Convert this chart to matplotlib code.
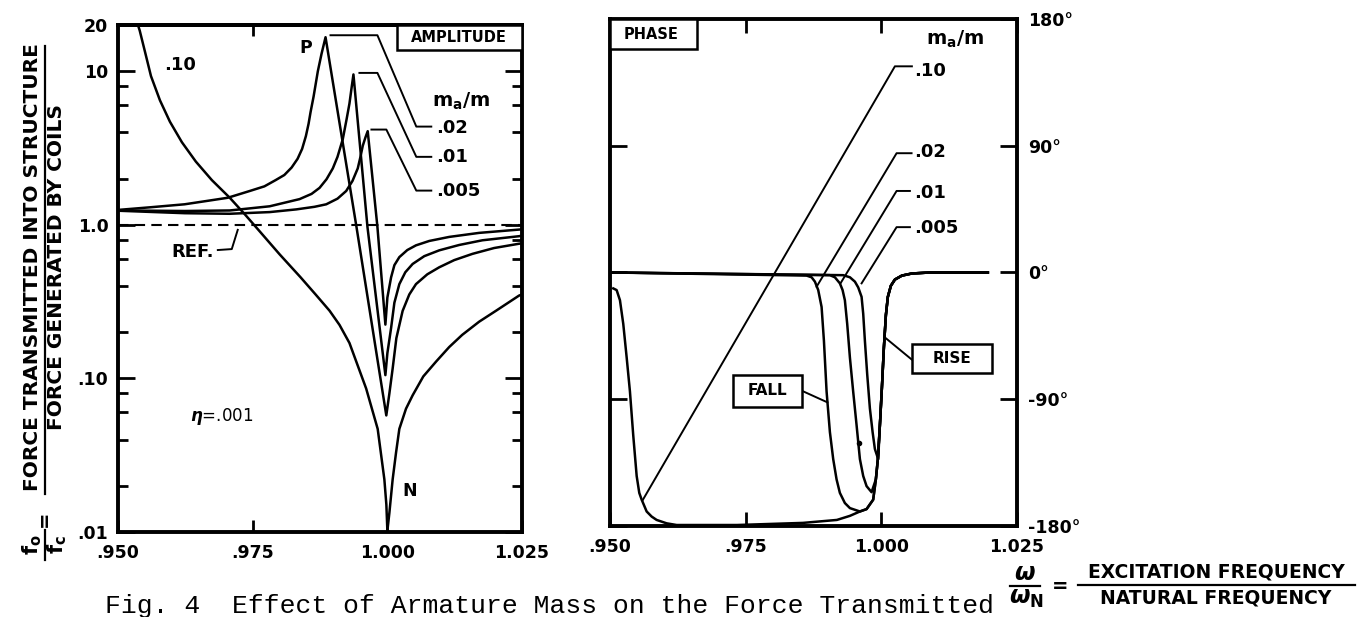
import matplotlib
matplotlib.use('Agg')
import matplotlib.pyplot as plt
from matplotlib.patches import Rectangle
from matplotlib.lines import Line2D
from matplotlib.ticker import NullFormatter

# ---- amplitude (f_o/f_c), one pair per m_a/m ----
amp_x_10 = [0.9535, 0.95402, 0.95500, 0.95611, 0.95778, 0.95963, 0.96185, 0.96444, 0.96741, 0.97074,
            0.97352, 0.97630, 0.98000, 0.98389, 0.98667, 0.98926, 0.99111, 0.99296, 0.99606, 0.99820,
            0.99944, 0.99981, 1.0000, 1.00037, 1.00098, 1.00161, 1.00222, 1.00346, 1.00469, 1.00667,
            1.00907, 1.01148, 1.01389, 1.01704, 1.02019, 1.02444, 1.0250]
amp_y_10 = [21.0, 18.4, 13.38, 9.30, 6.46, 4.69, 3.45, 2.58, 1.955, 1.50,
            1.172, 0.906, 0.642, 0.455, 0.352, 0.276, 0.223, 0.170, 0.0859, 0.0469,
            0.0220, 0.0151, 0.0102, 0.0133, 0.0220, 0.0329, 0.0469, 0.0635, 0.0776, 0.103,
            0.129, 0.160, 0.192, 0.234, 0.276, 0.346, 0.352]

amp_x_02 = [0.9500, 0.95593, 0.96235, 0.96704, 0.97037, 0.97444, 0.97717, 0.97926, 0.98087, 0.98222,
            0.98333, 0.98417, 0.98487, 0.98537, 0.98574, 0.98630, 0.98709, 0.98778, 0.98852, 0.99426,
            0.9998, 1.00037, 1.00098, 1.00167, 1.00283, 1.00407, 1.00531, 1.00741, 1.00963, 1.01241,
            1.01580, 1.01981, 1.02444, 1.0250]
amp_y_02 = [1.25, 1.30, 1.36, 1.44, 1.50, 1.66, 1.78, 1.955, 2.11, 2.36,
            2.69, 3.12, 3.78, 4.55, 5.42, 6.84, 10.0, 13.0, 16.65, 0.97,
            0.0574, 0.0797, 0.116, 0.183, 0.275, 0.352, 0.411, 0.476, 0.529, 0.589,
            0.647, 0.706, 0.753, 0.757]

amp_x_01 = [0.9500, 0.96241, 0.97074, 0.97815, 0.98370, 0.98593, 0.98741, 0.98870, 0.98987, 0.99074,
            0.99172, 0.99241, 0.99296, 0.99333, 0.99370, 0.99630, 0.99963, 1.0000, 1.00069, 1.00130,
            1.00222, 1.00333, 1.00469, 1.00685, 1.00963, 1.01333, 1.01765, 1.02444, 1.0250]
amp_y_01 = [1.24, 1.23, 1.24, 1.32, 1.47, 1.59, 1.74, 1.98, 2.33, 2.77,
            3.61, 4.83, 6.16, 7.69, 9.53, 0.97, 0.105, 0.146, 0.213, 0.311,
            0.411, 0.491, 0.556, 0.625, 0.682, 0.739, 0.793, 0.843, 0.85]

amp_x_005 = [0.9500, 0.96241, 0.97074, 0.97815, 0.98309, 0.98648, 0.98865, 0.99074, 0.99235, 0.99352,
             0.99450, 0.99500, 0.99543, 0.99593, 0.99635, 0.99815, 0.99963, 1.0000, 1.00069, 1.00130,
             1.00222, 1.00370, 1.00531, 1.00778, 1.01148, 1.01704, 1.02444, 1.0250]
amp_y_005 = [1.235, 1.19, 1.18, 1.21, 1.26, 1.31, 1.36, 1.48, 1.66, 1.93,
             2.33, 2.77, 3.27, 3.71, 4.07, 0.97, 0.224, 0.336, 0.455, 0.546,
             0.616, 0.685, 0.735, 0.785, 0.834, 0.886, 0.931, 0.935]

# ---- phase (deg) ----
ph_x_10 = [0.95061, 0.95123, 0.95184, 0.95245, 0.95308, 0.95368, 0.95429, 0.95492, 0.95540, 0.95584,
           0.95676, 0.95768, 0.95860, 0.96044, 0.96229, 0.97340, 0.98556, 0.99182, 0.99422, 0.99606,
           0.99729, 0.99851, 0.99900, 0.99937, 0.99974, 1.00011, 1.00048, 1.00085, 1.00121, 1.00177,
           1.00251, 1.00380, 1.00564, 1.00895, 1.01964]
ph_y_10 = [-11.3, -12.5, -19.7, -36.5, -60.5, -84.5, -115.7, -144.5, -156.5, -161.3,
           -169.7, -173.3, -175.7, -178.1, -179.3, -179.3, -177.8, -175.7, -172.8, -169.7,
           -168.0, -161.3, -146.9, -132.5, -108.7, -82.1, -53.3, -30.2, -17.3, -9.4,
           -5.0, -2.2, -0.7, 0.0, 0.0]

ph_x_02 = [0.9505, 0.98624, 0.98716, 0.98777, 0.98838, 0.98900, 0.98943, 0.98992, 0.99053, 0.99114,
           0.99176, 0.99237, 0.99329, 0.99422, 0.99606, 0.99729, 0.99851, 0.99900, 0.99937, 0.99974,
           1.00011, 1.00048, 1.00085, 1.00121, 1.00177, 1.00251, 1.00380, 1.00564, 1.00895, 1.01964]
ph_y_02 = [0.0, -2.2, -3.4, -6.5, -12.5, -24.5, -48.5, -84.5, -113.3, -132.5,
           -146.9, -156.5, -163.7, -167.3, -169.7, -168.0, -161.3, -146.9, -132.5, -108.7,
           -82.1, -53.3, -30.2, -17.3, -9.4, -5.0, -2.2, -0.7, 0.0, 0.0]

ph_x_01 = [0.9505, 0.99053, 0.99145, 0.99237, 0.99287, 0.99329, 0.99372, 0.99422, 0.99482, 0.99545,
           0.99606, 0.99667, 0.99729, 0.99821, 0.99900, 0.99937, 0.99974, 1.00011, 1.00048, 1.00085,
           1.00121, 1.00177, 1.00251, 1.00380, 1.00564, 1.00895, 1.01964]
ph_y_01 = [0.0, -1.9, -3.4, -7.7, -12.5, -19.7, -36.5, -60.5, -84.5, -108.5,
           -132.5, -144.5, -151.7, -156.0, -146.9, -132.5, -108.7, -82.1, -53.3, -30.2,
           -17.3, -9.4, -5.0, -2.2, -0.7, 0.0, 0.0]

ph_x_005 = [0.9505, 0.99298, 0.99422, 0.99514, 0.99575, 0.99637, 0.99667, 0.99698, 0.99741, 0.99790,
            0.99840, 0.99882, 0.99943, 0.99974, 1.00011, 1.00048, 1.00085, 1.00121, 1.00177, 1.00251,
            1.00380, 1.00564, 1.00895, 1.01964]
ph_y_005 = [0.0, -1.9, -3.4, -6.5, -10.6, -17.3, -29.3, -48.5, -72.5, -96.5,
            -113.3, -125.3, -132.5, -108.7, -82.1, -53.3, -30.2, -17.3, -9.4, -5.0,
            -2.2, -0.7, 0.0, 0.0]

ratios = ['.10', '.02', '.01', '.005']
x_ticks = [0.950, 0.975, 1.000, 1.025]
x_labels = ['.950', '.975', '1.000', '1.025']
amp_ticks = [0.01, 0.1, 1.0, 10, 20]
amp_labels = ['.01', '.10', '1.0', '10', '20']
amp_minor = [0.02, 0.04, 0.06, 0.08, 0.2, 0.4, 0.6, 0.8, 2, 4, 6, 8]
ph_ticks = [-180, -90, 0, 90, 180]
ph_labels = ['-180°', '-90°', '0°', '90°', '180°']

plt.rcParams['font.family'] = ['DejaVu Sans']
plt.rcParams['font.weight'] = 'bold'

fig = plt.figure(figsize=(13.57, 6.17), dpi=100)
ax1 = fig.add_axes([0.0870, 0.1378, 0.2977, 0.8217])
ax2 = fig.add_axes([0.4495, 0.1475, 0.2999, 0.8217])

LW = 1.8
for xs, ys in [(amp_x_10, amp_y_10), (amp_x_02, amp_y_02),
               (amp_x_01, amp_y_01), (amp_x_005, amp_y_005)]:
    ax1.plot(xs, ys, color='black', lw=LW, solid_joinstyle='round')
ax1.axhline(1.0, color='black', lw=1.5, ls=(0, (5, 3)))

ax1.set_yscale('log')
ax1.set_xlim(0.95, 1.025)
ax1.set_ylim(0.01, 20)
ax1.set_yticks(amp_ticks)
ax1.set_yticklabels(amp_labels)
ax1.set_yticks(amp_minor, minor=True)
ax1.yaxis.set_minor_formatter(NullFormatter())
ax1.set_xticks(x_ticks)
ax1.set_xticklabels(x_labels)
ax1.tick_params(axis='y', which='both', direction='in', left=True, right=True, width=2, labelsize=12.5, pad=7)
ax1.tick_params(axis='y', which='major', length=12)
ax1.tick_params(axis='y', which='minor', length=7)
ax1.tick_params(axis='x', direction='in', length=9, width=2, labelsize=12.5, pad=9)
top1 = ax1.secondary_xaxis('top')
top1.set_xticks([0.975])
top1.tick_params(direction='in', length=8, width=2, labeltop=False)

# leaders and labels, left panel
ax1.plot([0.98944, 0.99815, 1.00537, 1.00815], [17.15, 17.15, 4.36, 4.36], color='black', lw=1.4)
ax1.plot([0.99481, 0.99815, 1.00537, 1.00815], [9.75, 9.75, 2.77, 2.77], color='black', lw=1.4)
ax1.plot([0.99704, 0.99981, 1.00537, 1.00815], [4.17, 4.17, 1.67, 1.67], color='black', lw=1.4)
ax1.plot([0.96852, 0.97111, 0.97222], [0.685, 0.695, 0.927], color='black', lw=1.4)
ax1.text(1.0091, 4.29, ratios[1], fontsize=13, va='center', ha='left')
ax1.text(1.0091, 2.77, ratios[2], fontsize=13, va='center', ha='left')
ax1.text(1.0091, 1.67, ratios[3], fontsize=13, va='center', ha='left')
ax1.text(1.0137, 6.37, r'$\mathbf{m_a/m}$', fontsize=14, va='center', ha='center')
ax1.text(0.96148, 10.9, ratios[0], fontsize=13, va='center', ha='center')
ax1.text(0.98481, 14.2, 'P', fontsize=12.5, va='center', ha='center')
ax1.text(1.00407, 0.0186, 'N', fontsize=12.5, va='center', ha='center')
ax1.text(0.96389, 0.664, 'REF.', fontsize=13, va='center', ha='center')
ax1.text(0.96926, 0.0562, r'$\eta$=.001', fontsize=12, fontweight='normal', va='center', ha='center')
ax1.add_patch(Rectangle((0.691, 0.951), 0.309, 0.049, transform=ax1.transAxes,
                        fc='white', ec='black', lw=1.8, zorder=3))
ax1.text(0.843, 0.975, 'AMPLITUDE', transform=ax1.transAxes, fontsize=10.5,
         va='center', ha='center', zorder=4)

# right panel
for xs, ys in [(ph_x_10, ph_y_10), (ph_x_02, ph_y_02),
               (ph_x_01, ph_y_01), (ph_x_005, ph_y_005)]:
    ax2.plot(xs, ys, color='black', lw=LW, solid_joinstyle='round')
ax2.plot([0.99587], [-121], 'o', color='black', ms=3)

ax2.set_xlim(0.95, 1.025)
ax2.set_ylim(-180, 180)
ax2.set_xticks(x_ticks)
ax2.set_xticklabels(x_labels)
ax2.set_yticks(ph_ticks)
ax2.set_yticklabels(ph_labels)
ax2.tick_params(axis='y', direction='in', left=True, right=True, labelleft=False, labelright=True,
                length=12, width=2, labelsize=12.5, pad=8)
ax2.tick_params(axis='x', direction='in', top=True, length=10, width=2, labelsize=12.5, pad=9)

ax2.plot([0.95608, 1.00251, 1.00564], [-161.3, 146.4, 146.4], color='black', lw=1.4)
ax2.plot([0.98808, 1.00282, 1.00558], [-10.1, 84.7, 84.7], color='black', lw=1.4)
ax2.plot([0.99256, 1.00282, 1.00527], [-7.2, 57.9, 57.9], color='black', lw=1.4)
ax2.plot([0.99637, 1.00282, 1.00527], [-7.7, 32.2, 32.2], color='black', lw=1.4)
ax2.text(1.0060, 143.0, ratios[0], fontsize=13, va='center', ha='left')
ax2.text(1.0060, 85.4, ratios[1], fontsize=13, va='center', ha='left')
ax2.text(1.0060, 56.7, ratios[2], fontsize=13, va='center', ha='left')
ax2.text(1.0060, 31.5, ratios[3], fontsize=13, va='center', ha='left')
ax2.text(1.01356, 165.3, r'$\mathbf{m_a/m}$', fontsize=14, va='center', ha='center')

ax2.plot([1.00066, 1.00558], [-46.1, -61.7], color='black', lw=1.4)
ax2.plot([0.98532, 0.99007], [-83.9, -92.2], color='black', lw=1.4)
ax2.add_patch(Rectangle((1.00558, -71.3), 0.01474, 20.4, fc='white', ec='black', lw=1.8, zorder=3))
ax2.text(1.01295, -61.1, 'RISE', fontsize=11, va='center', ha='center', zorder=4)
ax2.add_patch(Rectangle((0.97266, -95.3), 0.01266, 22.8, fc='white', ec='black', lw=1.8, zorder=3))
ax2.text(0.97899, -83.9, 'FALL', fontsize=11, va='center', ha='center', zorder=4)
ax2.add_patch(Rectangle((0.0, 0.941), 0.214, 0.059, transform=ax2.transAxes,
                        fc='white', ec='black', lw=1.8, zorder=3))
ax2.text(0.101, 0.970, 'PHASE', transform=ax2.transAxes, fontsize=10.5,
         va='center', ha='center', zorder=4)

for a in (ax1, ax2):
    for s in a.spines.values():
        s.set_linewidth(2.8)
for s in top1.spines.values():
    s.set_linewidth(2.8)

# left y label: f_o/f_c = FORCE TRANSMITTED INTO STRUCTURE / FORCE GENERATED BY COILS
fig.text(0.0236, 0.5673, 'FORCE TRANSMITTED INTO STRUCTURE', rotation=90, fontsize=14.5,
         ha='center', va='center')
fig.text(0.0420, 0.5673, 'FORCE GENERATED BY COILS', rotation=90, fontsize=14.5,
         ha='center', va='center')
fig.add_artist(Line2D([0.0328, 0.0328], [0.1994, 0.9254], color='black', lw=1.6))
fig.text(0.0326, 0.1588, '=', rotation=90, fontsize=14, ha='center', va='center')
fig.text(0.0236, 0.1167, r'f$_\mathbf{o}$', rotation=90, fontsize=15, ha='center', va='center')
fig.text(0.0420, 0.1167, r'f$_\mathbf{c}$', rotation=90, fontsize=15, ha='center', va='center')
fig.add_artist(Line2D([0.0328, 0.0328], [0.092, 0.141], color='black', lw=1.6))

# x label at bottom right
fig.text(0.7553, 0.0713, 'ω', fontsize=17, style='italic', ha='center', va='center')
fig.text(0.7568, 0.0308, r'ω$_\mathbf{N}$', fontsize=17, style='italic', ha='center', va='center')
fig.add_artist(Line2D([0.7443, 0.7664], [0.0502, 0.0502], color='black', lw=1.6))
fig.text(0.7811, 0.0502, '=', fontsize=14, ha='center', va='center')
fig.text(0.8961, 0.0729, 'EXCITATION FREQUENCY', fontsize=13.5, ha='center', va='center')
fig.add_artist(Line2D([0.7944, 0.9985], [0.0519, 0.0519], color='black', lw=1.6))
fig.text(0.8961, 0.0308, 'NATURAL FREQUENCY', fontsize=13.5, ha='center', va='center')

fig.text(0.0774, 0.0065, 'Fig. 4  Effect of Armature Mass on the Force Transmitted',
         family='Liberation Mono', fontweight='normal', fontsize=19, ha='left', va='baseline')

fig.savefig('out.png', dpi=100)
plt.close()
